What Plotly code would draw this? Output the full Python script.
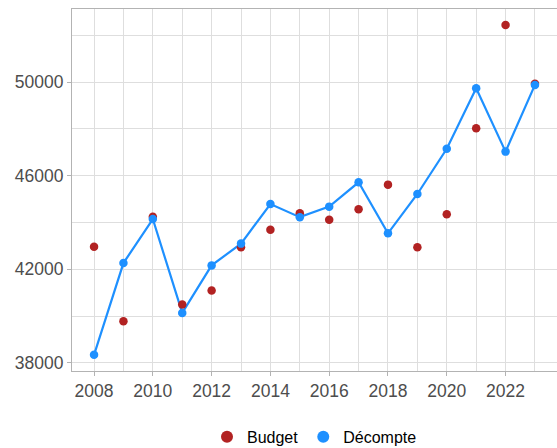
import plotly.graph_objects as go

years = list(range(2008, 2024))
budget = [42970, 39780, 44250, 40500, 41100, 42940, 43690, 44400,
          44120, 44570, 45620, 42940, 44350, 48030, 52440, 49930]
decompte = [38350, 42270, 44150, 40140, 42170, 43100, 44790, 44230,
            44680, 45720, 43540, 45220, 47150, 49740, 47030, 49880]

x_tickvals = [2008, 2010, 2012, 2014, 2016, 2018, 2020, 2022]
y_tickvals = [38000, 42000, 46000, 50000]
y_ticktext = ["38000", "42000", "46000", "50000"]

font_family = "Liberation Sans, Arial, sans-serif"

fig = go.Figure()
fig.add_trace(go.Scatter(
    x=years, y=decompte, mode="lines", name="Décompte", showlegend=False,
    line=dict(color="#1E90FF", width=2.2),
))
fig.add_trace(go.Scatter(
    x=years, y=budget, mode="markers", name="Budget",
    marker=dict(color="#B22222", size=8.5),
))
fig.add_trace(go.Scatter(
    x=years, y=decompte, mode="markers", name="Décompte",
    marker=dict(color="#1E90FF", size=8.5),
))

grid = "#DEDEDE"
border = "#B3B3B3"
fig.update_layout(
    width=557, height=448,
    margin=dict(l=72, r=0, t=9, b=77, autoexpand=False),
    plot_bgcolor="white", paper_bgcolor="white",
    font=dict(family=font_family, size=17.5, color="#4D4D4D"),
    legend=dict(orientation="h", x=0.5, xanchor="center", y=-0.182,
                yanchor="middle", font=dict(size=16, color="black"),
                itemsizing="constant"),
    xaxis=dict(range=[2007.25, 2023.75], tickvals=x_tickvals, automargin=False,
               showgrid=True, gridcolor=grid, gridwidth=1,
               minor=dict(dtick=1, tick0=2007, showgrid=True, gridcolor=grid, gridwidth=1),
               showline=True, linecolor=border, linewidth=1.2, mirror=True,
               ticks="outside", ticklen=4, tickcolor=border, zeroline=False),
    yaxis=dict(range=[37658, 53123], tickvals=y_tickvals, ticktext=y_ticktext,
               automargin=False,
               showgrid=True, gridcolor=grid, gridwidth=1,
               minor=dict(tickvals=[40000, 44000, 48000, 52000], showgrid=True,
                          gridcolor=grid, gridwidth=1),
               showline=True, linecolor=border, linewidth=1.2, mirror=True,
               ticks="outside", ticklen=4, tickcolor=border, zeroline=False),
)

fig.write_html("out.html", config={"displayModeBar": False},
               post_script="document.body.style.margin='0';document.body.style.overflow='hidden';")
